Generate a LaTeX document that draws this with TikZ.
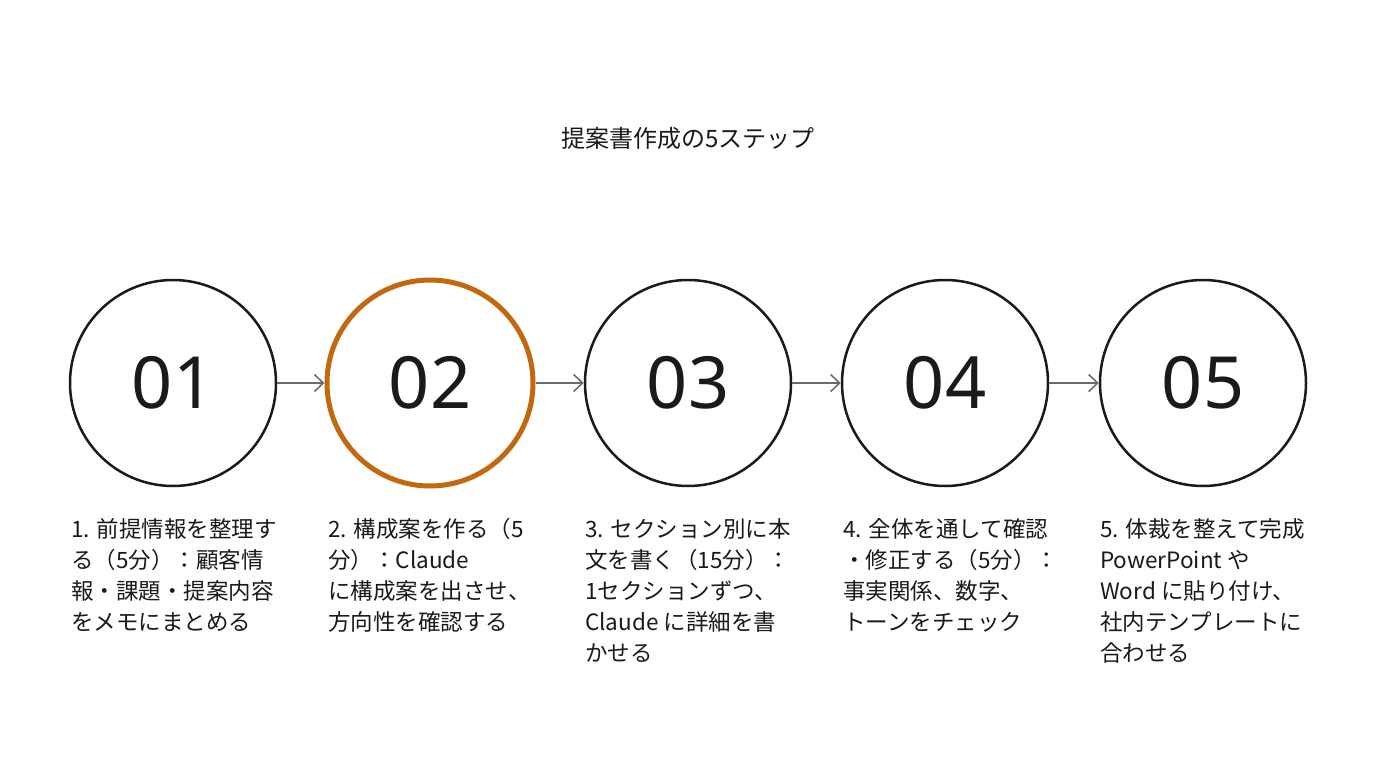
\documentclass[tikz,border=0pt]{standalone}
\usepackage{fontspec}
\setmainfont{Noto Sans CJK JP}
\newfontfamily\numfont{Noto Sans}
\usetikzlibrary{arrows.meta}
\definecolor{ink}{HTML}{1A1A1A}
\definecolor{accent}{HTML}{C2680F}
\definecolor{arrowgray}{HTML}{6A6A6A}
\tikzset{
  stepcircle/.style={circle, draw=ink, line width=2.5pt, minimum size=206pt, inner sep=0pt, fill=white},
  hicircle/.style={stepcircle, draw=accent, line width=5pt},
  numtext/.style={font=\numfont\fontsize{72}{72}\selectfont, text=ink},
  flow/.style={draw=arrowgray, line width=1.5pt, -{Straight Barb[length=9pt,width=17pt,line width=1.5pt]}},
  desc/.style={anchor=north west, inner sep=0pt, align=left, text=ink, font=\fontsize{22.5}{31}\selectfont},
  titletext/.style={font=\fontsize{24}{28}\selectfont, text=ink}
}
\begin{document}
\begin{tikzpicture}[x=1pt,y=-1pt]
\useasboundingbox[fill=white] (0,0) rectangle (1376,768);
\node[titletext] (title) at (688,138) {提案書作成の5ステップ};

\node[stepcircle] (c1) at (173,383) {};
\node[hicircle]   (c2) at (430,383) {};
\node[stepcircle] (c3) at (688,383) {};
\node[stepcircle] (c4) at (945,383) {};
\node[stepcircle] (c5) at (1203,383) {};

\node[numtext] (n1) at (c1) {01};
\node[numtext] (n2) at (c2) {02};
\node[numtext] (n3) at (c3) {03};
\node[numtext] (n4) at (c4) {04};
\node[numtext] (n5) at (c5) {05};

\draw[flow] (c1) -- (c2);
\draw[flow] (c2) -- (c3);
\draw[flow] (c3) -- (c4);
\draw[flow] (c4) -- (c5);

\node[desc] (d1) at (71,518) {1. 前提情報を整理す\\る（5分）：顧客情\\報・課題・提案内容\\をメモにまとめる};
\node[desc] (d2) at (328,518) {2. 構成案を作る（5\\分）：Claude\\に構成案を出させ、\\方向性を確認する};
\node[desc] (d3) at (585,518) {3. セクション別に本\\文を書く（15分）：\\1セクションずつ、\\Claude に詳細を書\\かせる};
\node[desc] (d4) at (843,518) {4. 全体を通して確認\\・修正する（5分）：\\事実関係、数字、\\トーンをチェック};
\node[desc] (d5) at (1100,518) {5. 体裁を整えて完成\\PowerPoint や\\Word に貼り付け、\\社内テンプレートに\\合わせる};
\end{tikzpicture}
\end{document}
